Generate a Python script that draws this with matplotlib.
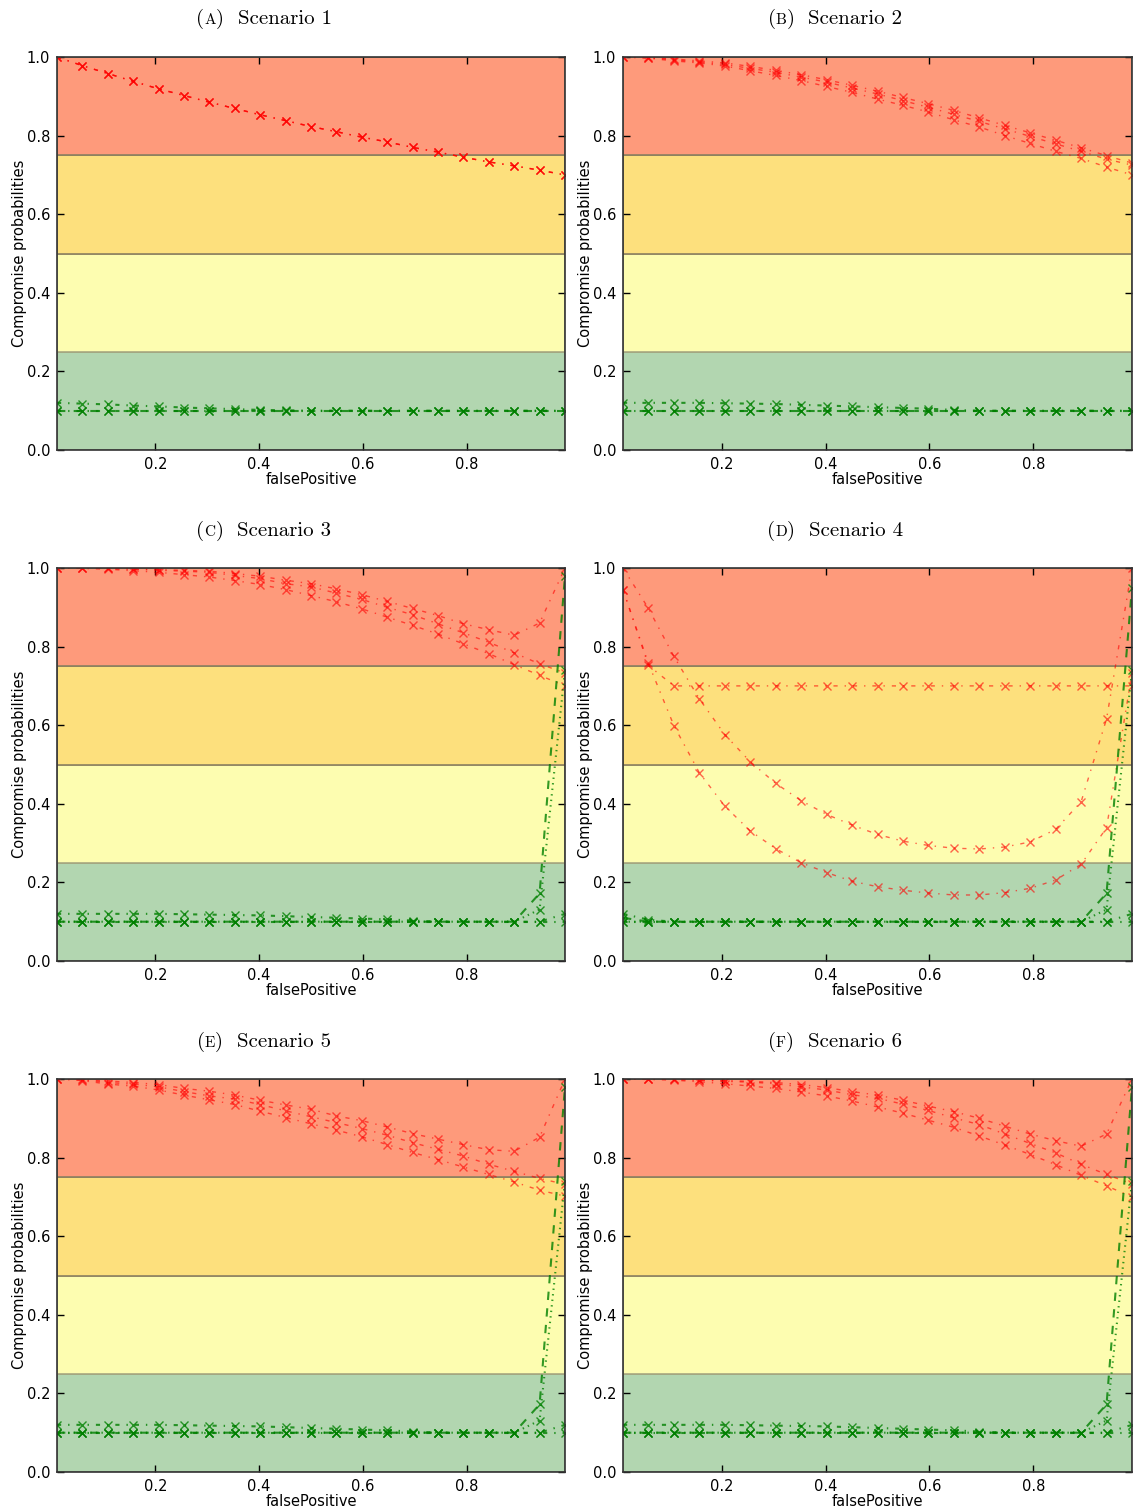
import matplotlib
matplotlib.use("Agg")
import matplotlib.pyplot as plt

# old-style (matplotlib 1.x) dash patterns
plt.rcParams["lines.scale_dashes"] = False
plt.rcParams["lines.dashdot_pattern"] = [3, 5, 1, 5]
plt.rcParams["lines.dashed_pattern"] = [6, 6]
plt.rcParams["lines.dotted_pattern"] = [1, 3]

# false positive grid (x axis)
false_positive = [0.01, 0.059, 0.108, 0.157, 0.206, 0.255, 0.304, 0.353, 0.402, 0.451, 0.5,
                  0.549, 0.598, 0.647, 0.696, 0.745, 0.794, 0.843, 0.892, 0.941, 0.99]

# green curves shared by several scenarios
green_flat = [0.1, 0.1, 0.1, 0.1, 0.1, 0.1, 0.1, 0.1, 0.1, 0.1, 0.1,
              0.1, 0.1, 0.1, 0.1, 0.1, 0.1, 0.1, 0.1, 0.1, 0.1]

# Scenario 1
s1_red = [1.0, 0.978, 0.958, 0.938, 0.919, 0.902, 0.885, 0.869, 0.853, 0.838, 0.823,
          0.810, 0.796, 0.784, 0.770, 0.758, 0.745, 0.733, 0.723, 0.712, 0.70]
s1_green = [0.12, 0.118, 0.116, 0.113, 0.111, 0.108, 0.106, 0.104, 0.102, 0.101, 0.1,
            0.1, 0.1, 0.1, 0.1, 0.1, 0.1, 0.1, 0.1, 0.1, 0.1]

# Scenario 2
s2_red1 = [1.0, 0.999, 0.995, 0.990, 0.985, 0.976, 0.966, 0.955, 0.942, 0.928, 0.913,
           0.897, 0.881, 0.864, 0.845, 0.826, 0.807, 0.788, 0.769, 0.749, 0.73]
s2_red2 = [1.0, 0.998, 0.993, 0.987, 0.981, 0.971, 0.961, 0.949, 0.936, 0.921, 0.906,
           0.889, 0.872, 0.854, 0.836, 0.817, 0.798, 0.779, 0.760, 0.740, 0.725]
s2_red3 = [1.0, 0.997, 0.990, 0.985, 0.977, 0.965, 0.953, 0.940, 0.925, 0.910, 0.893,
           0.877, 0.860, 0.840, 0.822, 0.800, 0.780, 0.760, 0.742, 0.720, 0.70]
s2_green = [0.12, 0.12, 0.12, 0.12, 0.119, 0.118, 0.117, 0.115, 0.113, 0.111, 0.109,
            0.107, 0.105, 0.102, 0.1, 0.1, 0.1, 0.1, 0.1, 0.1, 0.1]

# Scenario 3
s3_red1 = [1.0, 1.0, 0.999, 0.998, 0.996, 0.994, 0.992, 0.986, 0.979, 0.969, 0.960,
           0.947, 0.932, 0.915, 0.897, 0.879, 0.858, 0.843, 0.829, 0.860, 1.0]
s3_red2 = [1.0, 1.0, 0.999, 0.997, 0.994, 0.992, 0.989, 0.981, 0.973, 0.960, 0.952,
           0.936, 0.920, 0.900, 0.881, 0.858, 0.835, 0.811, 0.784, 0.756, 0.733]
s3_red3 = [1.0, 0.999, 0.997, 0.993, 0.989, 0.983, 0.977, 0.968, 0.958, 0.945, 0.930,
           0.914, 0.896, 0.875, 0.854, 0.832, 0.807, 0.782, 0.754, 0.727, 0.70]
s3_green_b = [0.12, 0.12, 0.12, 0.12, 0.12, 0.119, 0.118, 0.117, 0.116, 0.114, 0.112,
              0.110, 0.108, 0.106, 0.103, 0.1, 0.1, 0.1, 0.1, 0.1, 0.12]
s3_green_c = [0.1, 0.1, 0.1, 0.1, 0.1, 0.1, 0.1, 0.1, 0.1, 0.1, 0.1,
              0.1, 0.1, 0.1, 0.1, 0.1, 0.1, 0.1, 0.1, 0.172, 0.98]
s3_green_d = [0.1, 0.1, 0.1, 0.1, 0.1, 0.1, 0.1, 0.1, 0.1, 0.1, 0.1,
              0.1, 0.1, 0.1, 0.1, 0.1, 0.1, 0.1, 0.1, 0.131, 0.74]

# Scenario 4
s4_red1 = [1.0, 0.897, 0.775, 0.667, 0.576, 0.507, 0.452, 0.408, 0.373, 0.346, 0.322,
           0.305, 0.294, 0.287, 0.285, 0.290, 0.303, 0.335, 0.405, 0.616, 1.0]
s4_red2 = [0.945, 0.757, 0.599, 0.479, 0.394, 0.331, 0.286, 0.250, 0.225, 0.203, 0.189,
           0.180, 0.173, 0.168, 0.168, 0.174, 0.185, 0.206, 0.246, 0.339, 0.733]
s4_red3 = [0.945, 0.752, 0.70, 0.70, 0.70, 0.70, 0.70, 0.70, 0.70, 0.70, 0.70,
           0.70, 0.70, 0.70, 0.70, 0.70, 0.70, 0.70, 0.70, 0.70, 0.70]
s4_green_b = [0.12, 0.105, 0.1, 0.1, 0.1, 0.1, 0.1, 0.1, 0.1, 0.1, 0.1,
              0.1, 0.1, 0.1, 0.1, 0.1, 0.1, 0.1, 0.1, 0.1, 0.12]
s4_green_c = [0.11, 0.1, 0.1, 0.1, 0.1, 0.1, 0.1, 0.1, 0.1, 0.1, 0.1,
              0.1, 0.1, 0.1, 0.1, 0.1, 0.1, 0.1, 0.1, 0.172, 0.95]
s4_green_d = [0.1, 0.1, 0.1, 0.1, 0.1, 0.1, 0.1, 0.1, 0.1, 0.1, 0.1,
              0.1, 0.1, 0.1, 0.1, 0.1, 0.1, 0.1, 0.1, 0.131, 0.74]

# Scenario 5
s5_red1 = [1.0, 0.999, 0.995, 0.991, 0.986, 0.976, 0.969, 0.959, 0.946, 0.934, 0.923,
           0.906, 0.894, 0.878, 0.861, 0.847, 0.833, 0.820, 0.816, 0.852, 1.0]
s5_red2 = [1.0, 0.998, 0.991, 0.987, 0.980, 0.968, 0.957, 0.949, 0.935, 0.919, 0.904,
           0.889, 0.874, 0.857, 0.838, 0.821, 0.804, 0.783, 0.765, 0.747, 0.732]
s5_red3 = [1.0, 0.996, 0.987, 0.982, 0.972, 0.959, 0.947, 0.935, 0.918, 0.902, 0.886,
           0.870, 0.853, 0.833, 0.813, 0.795, 0.776, 0.757, 0.738, 0.717, 0.702]

# Scenario 6
s6_red1 = [1.0, 1.0, 0.999, 0.998, 0.996, 0.994, 0.991, 0.986, 0.978, 0.968, 0.959,
           0.946, 0.931, 0.917, 0.900, 0.880, 0.860, 0.843, 0.829, 0.860, 1.0]
s6_red2 = [1.0, 1.0, 0.999, 0.997, 0.994, 0.992, 0.988, 0.980, 0.972, 0.960, 0.951,
           0.936, 0.920, 0.901, 0.884, 0.860, 0.836, 0.812, 0.783, 0.757, 0.733]
s6_red3 = [1.0, 0.999, 0.997, 0.993, 0.988, 0.982, 0.976, 0.967, 0.957, 0.944, 0.929,
           0.913, 0.895, 0.877, 0.855, 0.832, 0.808, 0.782, 0.755, 0.728, 0.70]

panel_letters = ["A", "B", "C", "D", "E", "F"]
panel_titles = ["Scenario 1", "Scenario 2", "Scenario 3", "Scenario 4", "Scenario 5", "Scenario 6"]

scenarios = [
    ([s1_red, s1_red, s1_red], [green_flat, s1_green, green_flat]),
    ([s2_red1, s2_red2, s2_red3], [green_flat, s2_green, green_flat]),
    ([s3_red1, s3_red2, s3_red3], [green_flat, s3_green_b, s3_green_c, s3_green_d]),
    ([s4_red1, s4_red2, s4_red3], [green_flat, s4_green_b, s4_green_c, s4_green_d]),
    ([s5_red1, s5_red2, s5_red3], [green_flat, s3_green_b, s3_green_c, s3_green_d]),
    ([s6_red1, s6_red2, s6_red3], [green_flat, s3_green_b, s3_green_c, s3_green_d]),
]

green_styles = ["-.", "-.", "--", ":"]

fig = plt.figure(figsize=(11.34, 15.12), dpi=100)

lefts = [57 / 1134, 623 / 1134]
widths = [508 / 1134, 509 / 1134]
bottoms = [1 - 450 / 1512, 1 - 961 / 1512, 1 - 1472 / 1512]
height = 393 / 1512
title_x = [264 / 1134, 835 / 1134]
title_y = [1 - 24 / 1512, 1 - 536 / 1512, 1 - 1047 / 1512]

for i, (reds, greens) in enumerate(scenarios):
    row, col = divmod(i, 2)
    ax = fig.add_axes([lefts[col], bottoms[row], widths[col], height])

    # risk bands
    ax.axhspan(0.0, 0.25, facecolor="#b2d6b0", edgecolor="#8a9a80", lw=1.2, zorder=0)
    ax.axhspan(0.25, 0.5, facecolor="#fdfdb0", edgecolor="#a8a880", lw=1.2, zorder=0)
    ax.axhspan(0.5, 0.75, facecolor="#fde07d", edgecolor="#8c8060", lw=1.2, zorder=0)
    ax.axhspan(0.75, 1.0, facecolor="#fe9a7b", edgecolor="#8c8060", lw=1.2, zorder=0)

    for ys in reds:
        ax.plot(false_positive, ys, "-.", color="red", marker="x", ms=6, mew=1,
                lw=1, alpha=0.6)
    for ys, ls in zip(greens, green_styles):
        ax.plot(false_positive, ys, ls, color="green", marker="x", ms=6, mew=1,
                lw=1.5, alpha=0.8)

    ax.set_xlim(0.01, 0.99)
    ax.set_ylim(0, 1)
    ax.set_xticks([0.2, 0.4, 0.6, 0.8])
    ax.set_yticks([0.0, 0.2, 0.4, 0.6, 0.8, 1.0])
    ax.tick_params(direction="in", top=True, right=True, length=5, width=1,
                   labelsize=10.5, pad=5)
    for sp in ax.spines.values():
        sp.set_color("#333333")
        sp.set_linewidth(1.2)
    ax.set_xlabel("falsePositive", fontsize=10.5, labelpad=0)
    ax.set_ylabel("Compromise probabilities", fontsize=10.5, labelpad=0)

# captions "(a) Scenario n" with small caps letter, computer modern
renderer = fig.canvas.get_renderer()
for i in range(6):
    row, col = divmod(i, 2)
    pieces = [("(", 15), (panel_letters[i], 11), (")", 15), ("  " + panel_titles[i], 15)]
    texts = [fig.text(0, title_y[row], s, fontsize=fs, family="cmr10", va="baseline")
             for s, fs in pieces]
    ws = [t.get_window_extent(renderer).width / fig.bbox.width for t in texts]
    x = title_x[col] - sum(ws) / 2
    for t, w in zip(texts, ws):
        t.set_x(x)
        x += w

fig.savefig("out.png", dpi=100)
